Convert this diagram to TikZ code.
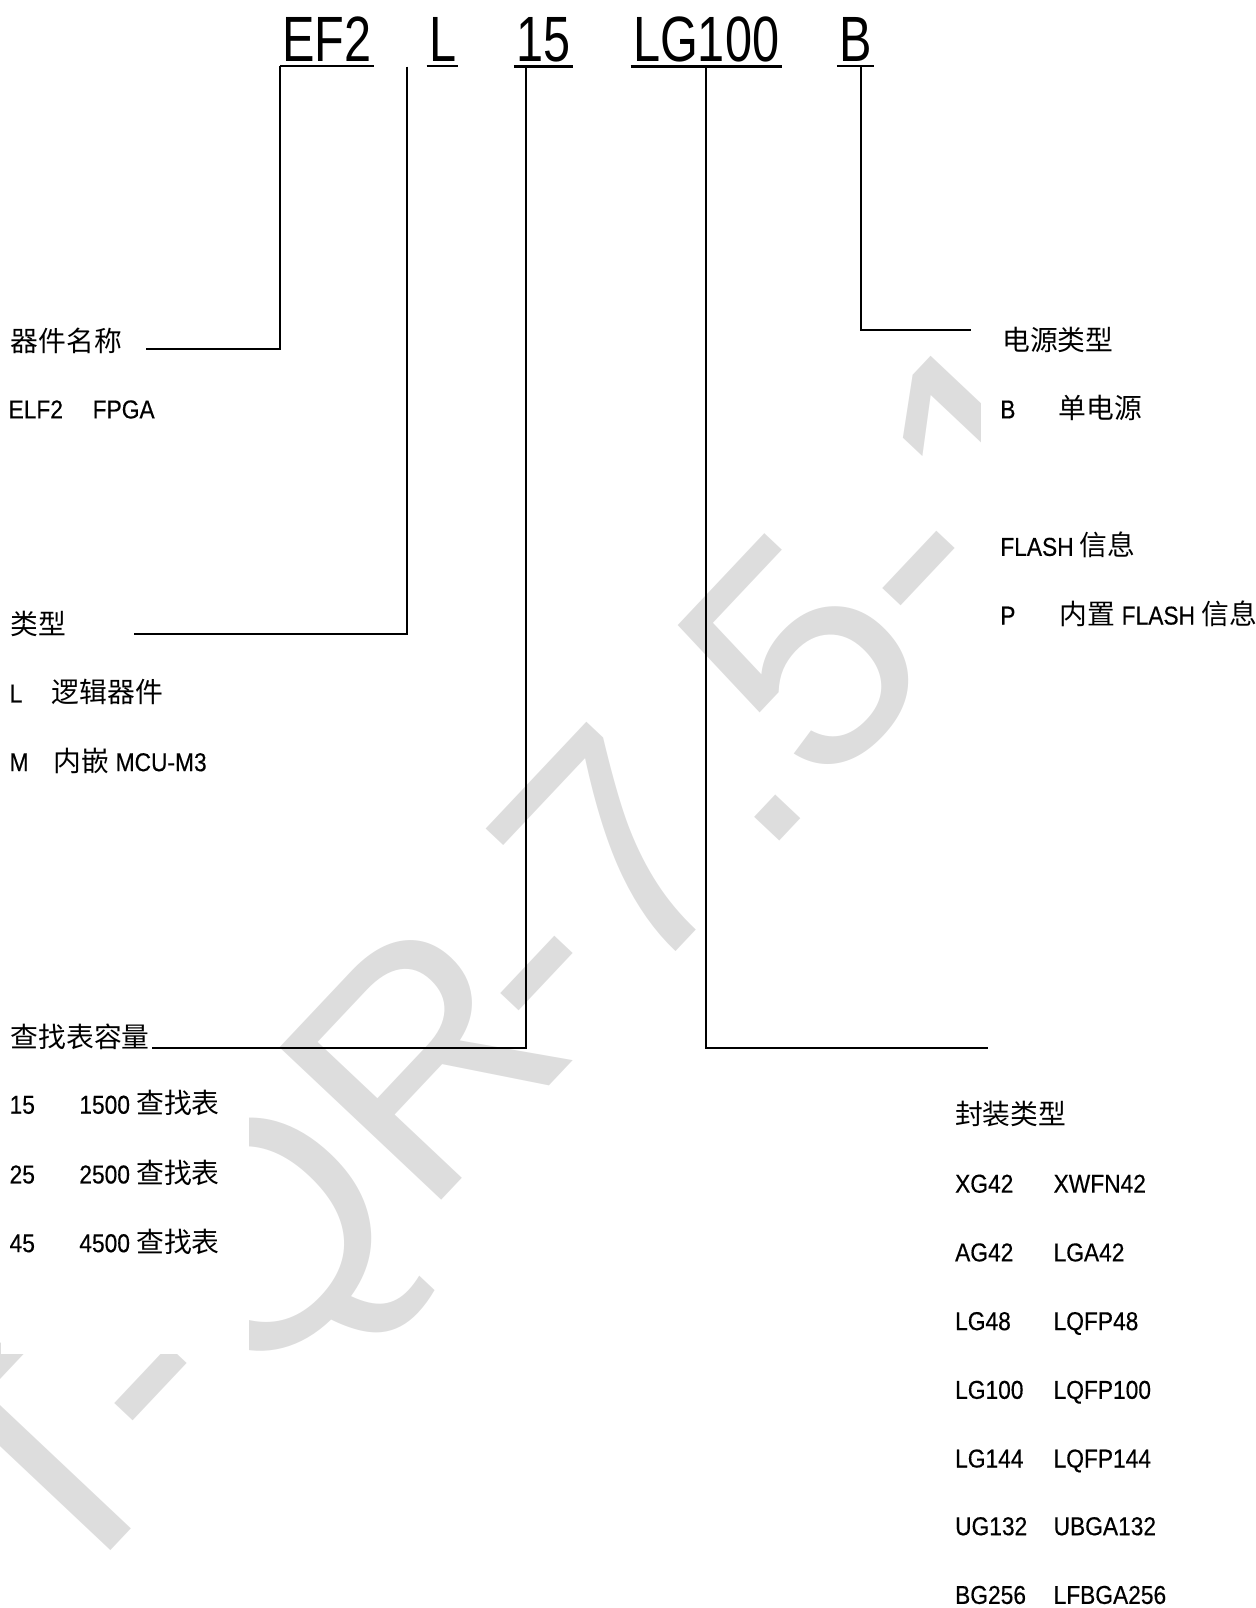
\documentclass[tikz,border=0pt]{standalone}
\usepackage{fontspec}
\setmainfont{Liberation Sans}[FakeStretch=0.88,Scale=0.93,FakeBold=0.4]
\newfontfamily\codefont{Liberation Sans}[FakeStretch=0.76]
\newfontfamily\markfont{Liberation Sans}
\newfontfamily\cjk{Noto Sans CJK SC}
\usetikzlibrary{positioning}
\definecolor{markgray}{RGB}{221,221,221}

\begin{document}
\begin{tikzpicture}[
        x=0.51265pt,
        y=-0.51265pt,
        code/.style={
            anchor=base west,
            inner xsep=1pt,
            inner ysep=2pt,
            font=\codefont\fontsize{32}{32}\selectfont
        },
        label/.style={
            anchor=base west,
            inner xsep=0pt,
            inner ysep=4pt,
            font=\fontsize{13.9}{16}\selectfont
        },
        stampmark/.style={
            text=markgray,
            inner sep=0pt,
            rotate=46.7,
            font=\markfont\fontsize{161.5}{161.5}\selectfont
        },
        lead/.style={line width=1.1pt},
        under/.style={line width=1.3pt}
    ]
    \useasboundingbox (0,0) rectangle (1224,1568);

    % Watermark, hidden behind the text columns
    \begin{scope}[even odd rule]
        \clip (0,0) rectangle (1224,1568)
            (956,298) rectangle (1224,640)
            (0,1035) rectangle (243,1320);
        \coordinate (stampcut) at (548.2,1045.6);
        \coordinate (stampcuta) at (568.8,1023.8);
        \node[stampmark, anchor=base east] (stampa) at (stampcuta) {T-QR};
        \node[stampmark, anchor=base west] (stampb) at (stampcut) {-7.5-1};
    \end{scope}

    % Part number
    \node[code] (family) at (273,60) {EF2};
    \node[code] (kind) at (416,60) {L};
    \node[code] (lut) at (501,60) {15};
    \node[code] (pkg) at (615,60) {LG100};
    \node[code] (power) at (816,60) {B};

    \draw[under] (family.south west) -- (family.south east);
    \draw[under] (kind.south west) -- (kind.south east);
    \draw[under] (lut.south west) -- (lut.south east);
    \draw[under] (pkg.south west) -- (pkg.south east);
    \draw[under] (power.south west) -- (power.south east);

    % Device name
    \node[label] (name) at (10,343) {\cjk 器件名称};
    \node[label] (elf) at (8,408) {ELF2};
    \node[label] (fpga) at (90,408) {FPGA};

    % Type
    \node[label] (type) at (10,619) {\cjk 类型};
    \node[label] (typel) at (9,685) {L};
    \node[label] (typelv) at (50,685) {\cjk 逻辑器件};
    \node[label] (typem) at (9,752) {M};
    \node[label] (typemv) at (52,752) {{\cjk 内嵌} MCU-M3};

    % LUT size
    \node[label] (lutsize) at (10,1021) {\cjk 查找表容量};
    \node[label] (luta) at (9,1086) {15};
    \node[label] (lutav) at (77,1086) {1500 {\cjk 查找表}};
    \node[label] (lutb) at (9,1154) {25};
    \node[label] (lutbv) at (77,1154) {2500 {\cjk 查找表}};
    \node[label] (lutc) at (9,1221) {45};
    \node[label] (lutcv) at (77,1221) {4500 {\cjk 查找表}};

    % Power
    \node[label] (pwr) at (977,342) {\cjk 电源类型};
    \node[label] (pwrb) at (975,408) {B};
    \node[label] (pwrbv) at (1032,408) {\cjk 单电源};
    \node[label] (flash) at (975,542) {FLASH {\cjk 信息}};
    \node[label] (flashp) at (975,609) {P};
    \node[label] (flashpv) at (1033,609) {{\cjk 内置} FLASH {\cjk 信息}};

    % Package
    \node[label] (pkgtype) at (931,1097) {\cjk 封装类型};
    \node[label] (xg) at (931,1163) {XG42};
    \node[label] (xgv) at (1027,1163) {XWFN42};
    \node[label] (ag) at (931,1230) {AG42};
    \node[label] (agv) at (1027,1230) {LGA42};
    \node[label] (lg) at (931,1297) {LG48};
    \node[label] (lgv) at (1027,1297) {LQFP48};
    \node[label] (lgh) at (931,1364) {LG100};
    \node[label] (lghv) at (1027,1364) {LQFP100};
    \node[label] (lgf) at (931,1431) {LG144};
    \node[label] (lgfv) at (1027,1431) {LQFP144};
    \node[label] (ug) at (931,1497) {UG132};
    \node[label] (ugv) at (1027,1497) {UBGA132};
    \node[label] (bg) at (931,1564) {BG256};
    \node[label] (bgv) at (1027,1564) {LFBGA256};

    % Leads
    \coordinate (nameend) at (142,340);
    \coordinate (typetop) at (397,65);
    \coordinate (typeend) at (131,618);
    \coordinate (lutend) at (148,1022);
    \coordinate (pkgend) at (963,1022);
    \coordinate (pwrend) at (947,322);

    \draw[lead] (family.south west) |- (nameend);
    \draw[lead] (typetop) |- (typeend);
    \draw[lead] ([xshift=6pt]lut.south west) |- (lutend);
    \draw[lead] (pkg.south) |- (pkgend);
    \draw[lead] ([xshift=-6.6pt]power.south east) |- (pwrend);

\end{tikzpicture}
\end{document}
